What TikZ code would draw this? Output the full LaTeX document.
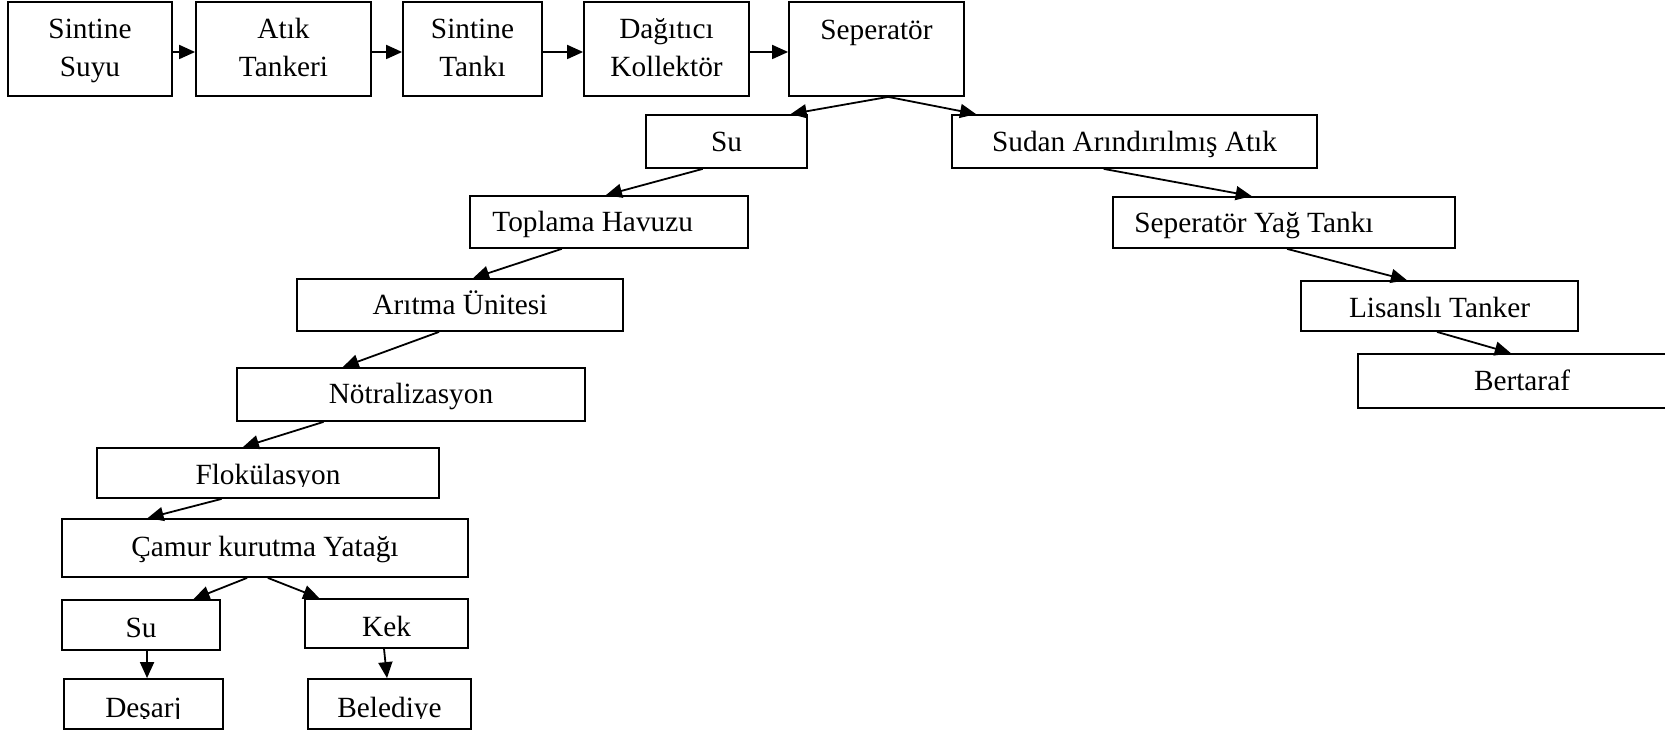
\documentclass[tikz,border=0pt]{standalone}
\usepackage{fontspec}
\setmainfont{Liberation Serif}
\usetikzlibrary{arrows.meta,calc}
\tikzset{
  box/.style={draw, line width=0.9pt, inner sep=0pt, rectangle},
  txt/.style={inner sep=0pt, anchor=base, font=\fontsize{14.65pt}{19pt}\selectfont},
  txtw/.style={txt, anchor=base west},
  arr/.style={line width=0.9pt, -{Triangle[length=8pt,width=7pt]}},
}
\newcommand\mybx[5]{\pgfmathsetmacro\myBW{(#4-#2)*0.5}\pgfmathsetmacro\myBH{(#5-#3)*0.5}%
  \node[box, minimum width=\myBW pt, minimum height=\myBH pt] (#1) at ({(#2+#4)/2},{(#3+#5)/2}) {};}
\newcommand\myar[4]{\draw[arr] ($(#1.south west)!#2!(#1.south east)$) -- ($(#3.north west)!#4!(#3.north east)$);}
\begin{document}
\begin{tikzpicture}[x=0.5pt,y=-0.5pt]
\useasboundingbox (0,0) rectangle (1665,732);
% boxes
\mybx{s1}{8}{2}{172}{96}
\mybx{s2}{196}{2}{371}{96}
\mybx{s3}{403}{2}{542}{96}
\mybx{s4}{584}{2}{749}{96}
\mybx{s5}{789}{2}{964}{96}
\mybx{suA}{646}{115}{807}{168}
\mybx{sud}{952}{115}{1317}{168}
\mybx{top}{470}{196}{748}{248}
\mybx{syt}{1113}{197}{1455}{248}
\mybx{ari}{297}{279}{623}{331}
\mybx{lis}{1301}{281}{1578}{331}
\mybx{ber}{1358}{354}{1686}{408}
\mybx{not}{237}{368}{585}{421}
\mybx{flo}{97}{448}{439}{498}
\mybx{cam}{62}{519}{468}{577}
\mybx{suB}{62}{600}{220}{650}
\mybx{kek}{305}{599}{468}{648}
\mybx{des}{64}{679}{223}{729}
\mybx{bel}{308}{679}{471}{729}
% texts
\node[txt] (s1a) at (90,39) {Sintine};
\node[txt] (s1b) at (90,77) {Suyu};
\node[txt] (s2a) at (283.5,39) {Atık};
\node[txt] (s2b) at (283.5,77) {Tankeri};
\node[txt] (s3a) at (472.5,39) {Sintine};
\node[txt] (s3b) at (472.5,77) {Tankı};
\node[txt] (s4a) at (666.5,39) {Dağıtıcı};
\node[txt] (s4b) at (666.5,77) {Kollektör};
\node[txt] (s5a) at (876.5,40) {Seperatör};
\node[txt] (suAt) at (726.5,152) {Su};
\node[txt] (sudt) at (1134.5,152) {Sudan Arındırılmış Atık};
\node[txtw] (topt) at (492,232) {Toplama Havuzu};
\node[txtw] (sytt) at (1134,233) {Seperatör Yağ Tankı};
\node[txt] (arit) at (460,315) {Arıtma Ünitesi};
\node[txt] (list) at (1439.5,318) {Lisanslı Tanker};
\node[txt] (bert) at (1522,391) {Bertaraf};
\node[txt] (nott) at (411,404) {Nötralizasyon};
\begin{scope}
  \clip (flo.north west) rectangle ($(flo.south east)+(0,-12)$);
  \node[txt] (flot) at (268,485) {Flokülasyon};
\end{scope}
\node[txt] (camt) at (265,556) {Çamur kurutma Yatağı};
\node[txt] (suBt) at (141,637) {Su};
\node[txt] (kekt) at (386.5,636) {Kek};
\begin{scope}
  \clip (des.north west) rectangle ($(des.south east)+(0,-11)$);
  \node[txt] (dest) at (143.5,717) {Deşarj};
\end{scope}
\begin{scope}
  \clip (bel.north west) rectangle ($(bel.south east)+(0,-11)$);
  \node[txt] (belt) at (389.5,717) {Belediye};
\end{scope}
% horizontal arrows
\draw[arr] ([yshift=-1.5pt]s1.east) -- ([yshift=-1.5pt]s2.west);
\draw[arr] ([yshift=-1.5pt]s2.east) -- ([yshift=-1.5pt]s3.west);
\draw[arr] ([yshift=-1.5pt]s3.east) -- ([yshift=-1.5pt]s4.west);
\draw[arr] ([yshift=-1.5pt]s4.east) -- ([yshift=-1.5pt]s5.west);
% diagonal arrows
\myar{s5}{0.566}{suA}{0.894}
\myar{s5}{0.566}{sud}{0.068}
\myar{suA}{0.354}{top}{0.489}
\myar{top}{0.331}{ari}{0.54}
\myar{ari}{0.436}{not}{0.305}
\myar{not}{0.25}{flo}{0.427}
\myar{flo}{0.365}{cam}{0.212}
\myar{cam}{0.456}{suB}{0.829}
\myar{cam}{0.507}{kek}{0.092}
\myar{suB}{0.538}{des}{0.522}
\myar{kek}{0.485}{bel}{0.485}
\myar{sud}{0.416}{syt}{0.406}
\myar{syt}{0.509}{lis}{0.383}
\myar{lis}{0.491}{ber}{0.466}
\end{tikzpicture}
\end{document}
